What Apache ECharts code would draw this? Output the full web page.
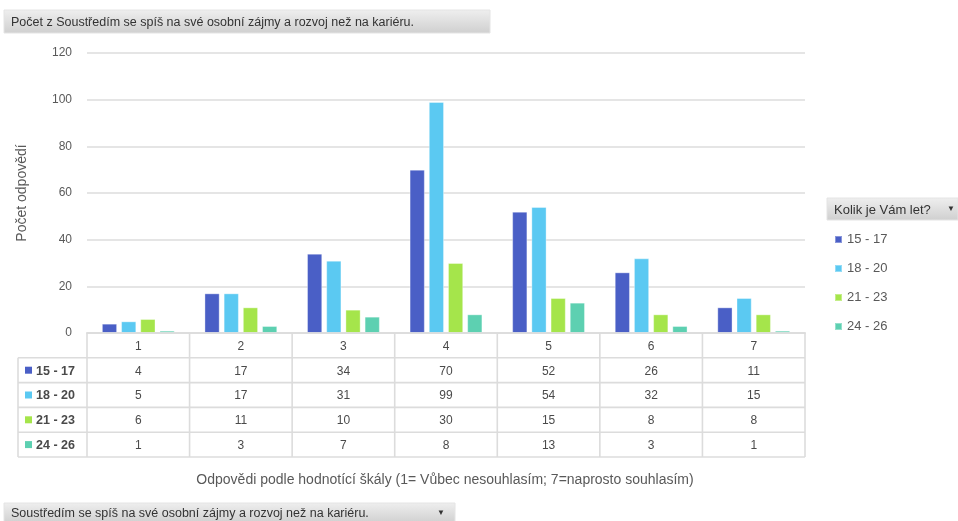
<!DOCTYPE html>
<html>
<head>
<meta charset="utf-8">
<script src="https://cdn.jsdelivr.net/npm/echarts/dist/echarts.min.js"></script>
<style>
html,body{margin:0;padding:0;background:#fff;}
#c{width:958px;height:521px;}
</style>
</head>
<body>
<div id="c"></div>
<script>
// ---- data ----
const categories = ['1', '2', '3', '4', '5', '6', '7'];
const seriesNames = ['15 - 17', '18 - 20', '21 - 23', '24 - 26'];
const age15to17 = [4, 17, 34, 70, 52, 26, 11];
const age18to20 = [5, 17, 31, 99, 54, 32, 15];
const age21to23 = [6, 11, 10, 30, 15, 8, 8];
const age24to26 = [1, 3, 7, 8, 13, 3, 1];
const yMin = 0, yMax = 120, yStep = 20;
const chartTitle = 'Počet z Soustředím se spíš na své osobní zájmy a rozvoj než na kariéru.';
const filterLabel = 'Soustředím se spíš na své osobní zájmy a rozvoj než na kariéru.';
const legendTitle = 'Kolik je Vám let?';
const yTitle = 'Počet odpovědí';
const xTitle = 'Odpovědi podle hodnotící škály (1= Vůbec nesouhlasím; 7=naprosto souhlasím)';

const seriesData = [age15to17, age18to20, age21to23, age24to26];
const colors = ['#4a5fc6', '#5bc9f2', '#a5e54b', '#5dd0b1'];
const FONT = '"Liberation Sans", Arial, sans-serif';
const TXT = '#595959';

const chart = echarts.init(document.getElementById('c'), null, {renderer: 'canvas'});

const option = {
  animation: false,
  color: colors,
  textStyle: {fontFamily: FONT},
  grid: {left: 87, right: 153, top: 53, bottom: 188, containLabel: false},
  legend: {
    orient: 'vertical', left: 829, top: 228,
    icon: 'rect', itemWidth: 7, itemHeight: 7, itemGap: 16,
    textStyle: {fontFamily: FONT, fontSize: 13, color: TXT},
    data: seriesNames, selectedMode: false
  },
  xAxis: {
    type: 'category', data: categories,
    axisLine: {show: true, lineStyle: {color: '#dddddd', width: 2}},
    axisTick: {show: false}, axisLabel: {show: false},
    splitLine: {show: false}
  },
  yAxis: {
    type: 'value', min: yMin, max: yMax, interval: yStep,
    name: yTitle, nameLocation: 'middle', nameGap: 58, nameRotate: 90,
    nameTextStyle: {fontFamily: FONT, fontSize: 14, color: TXT},
    axisLine: {show: false}, axisTick: {show: false},
    axisLabel: {fontFamily: FONT, fontSize: 12, color: TXT, margin: 15},
    splitLine: {lineStyle: {color: '#dcdcdc', width: 1.5}}
  },
  series: seriesNames.map((n, i) => ({
    name: n, type: 'bar', data: seriesData[i],
    barGap: '26%', barCategoryGap: '29%',
    itemStyle: {color: colors[i], borderColor: 'rgba(255,255,255,0.35)', borderWidth: 1}
  }))
};
chart.setOption(option);

// ---- data table & decorations built from axis geometry ----
const rect = chart.getModel().getComponent('grid').coordinateSystem.getRect();
const gx0 = rect.x, gx1 = rect.x + rect.width, gy1 = rect.y + rect.height;
const bandW = rect.width / categories.length;
const rowH = 24.8;
const tableLeft = 18;
const lineStyle = {stroke: '#dcdcdc', lineWidth: 1.6};
const g = [];
function hline(x1, x2, y) { g.push({type: 'line', silent: true, shape: {x1, y1: y, x2, y2: y}, style: lineStyle, z: 10}); }
function vline(x, y1, y2) { g.push({type: 'line', silent: true, shape: {x1: x, y1, x2: x, y2}, style: lineStyle, z: 10}); }
function txt(x, y, text, align, size, color, extra) {
  g.push({type: 'text', silent: true, x, y, z: 11,
    style: Object.assign({text, fill: color || TXT, fontSize: size || 11, fontFamily: FONT,
      textAlign: align || 'center', textVerticalAlign: 'middle'}, extra || {})});
}
const nRows = seriesNames.length;
const tableBottom = gy1 + rowH * (nRows + 1);
// horizontal lines
hline(gx0, gx1, gy1);
for (let r = 1; r <= nRows + 1; r++) hline(tableLeft, gx1, gy1 + rowH * r);
// vertical lines
vline(tableLeft, gy1 + rowH, tableBottom);
for (let c = 0; c <= categories.length; c++) vline(gx0 + bandW * c, gy1, tableBottom);
// header & values
categories.forEach((cat, ci) => {
  const cx = chart.convertToPixel({xAxisIndex: 0}, cat);
  txt(cx, gy1 + rowH / 2 + 1, cat, 'center', 12, '#4a4a4a');
  seriesData.forEach((arr, ri) => {
    txt(cx, gy1 + rowH * (ri + 1.5) + 1, String(arr[ci]), 'center', 12, '#4a4a4a');
  });
});
// row legend keys
seriesNames.forEach((n, ri) => {
  const cy = gy1 + rowH * (ri + 1.5);
  g.push({type: 'rect', silent: true, z: 11, shape: {x: tableLeft + 7, y: cy - 3.5, width: 7, height: 7}, style: {fill: colors[ri]}});
  txt(tableLeft + 18, cy + 1, n, 'left', 12.5, '#4a4a4a', {fontWeight: 'bold'});
});
// x axis title
txt((gx0 + gx1) / 2 - 1, 480, xTitle, 'center', 14, TXT);

// grey field-button boxes
function button(x, y, w, h, text, arrowX, size) {
  g.push({type: 'rect', silent: true, z: 5, shape: {x, y, width: w, height: h},
    style: {fill: new echarts.graphic.LinearGradient(0, 0, 0, 1, [{offset: 0, color: '#efefef'}, {offset: 1, color: '#cfcfcf'}]),
      stroke: '#e4e4e4', lineWidth: 1}});
  txt(x + 7, y + h / 2 + 1, text, 'left', size, '#333333');
  if (arrowX) txt(arrowX, y + h / 2, '▼', 'center', 8, '#333333');
}
button(4, 10, 486, 23, chartTitle, 0, 12.5);
button(827, 198, 131, 22, legendTitle, 951, 13);
button(4, 503, 451, 20, filterLabel, 441, 12.5);

chart.setOption({graphic: g});
</script>
</body>
</html>
